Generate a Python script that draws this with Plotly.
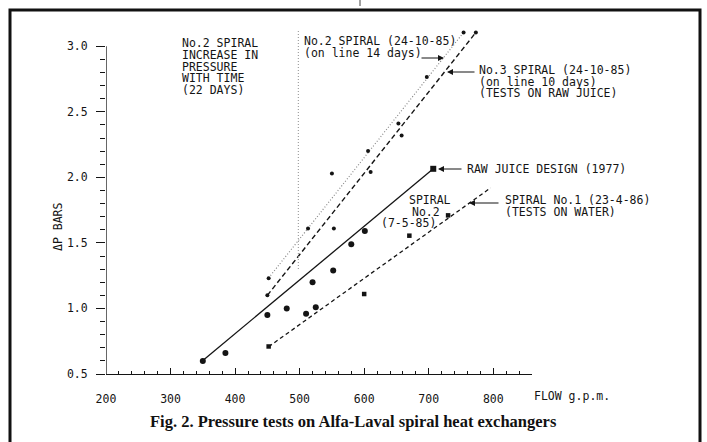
import plotly.graph_objects as go

# ---------------- data ----------------
# Spiral No.2 (7-5-85)  - solid line, large dots
sp2_x = [350, 385, 450, 480, 510, 520, 525, 552, 580, 601]
sp2_y = [0.60, 0.66, 0.95, 1.00, 0.96, 1.20, 1.01, 1.29, 1.49, 1.59]
sp2_fit_x = [351, 707]
sp2_fit_y = [0.607, 2.065]

# Raw juice design (1977)
design_x = [707]
design_y = [2.065]

# No.2 spiral (24-10-85) on line 14 days - dotted line
d14_x = [452, 513, 550, 606, 697, 754]
d14_y = [1.23, 1.61, 2.03, 2.20, 2.765, 3.105]
d14_fit_x = [452, 754]
d14_fit_y = [1.233, 3.105]

# No.3 spiral (24-10-85) on line 10 days, tests on raw juice - dashed line
d10_x = [450, 553, 610, 653, 658, 773]
d10_y = [1.10, 1.61, 2.04, 2.41, 2.32, 3.105]
d10_fit_x = [450, 773]
d10_fit_y = [1.10, 3.105]

# Spiral No.1 (23-4-86), tests on water - dashed line, squares
w_x = [452, 600, 670, 730]
w_y = [0.71, 1.11, 1.555, 1.71]
w_fit_x = [452, 796]
w_fit_y = [0.708, 1.92]

# vertical reference line (increase in pressure with time)
ref_x = [498, 498]
ref_y = [1.30, 3.13]

x_ticks = [200, 300, 400, 500, 600, 700, 800]
x_tick_labels = ["200", "300", "400", "500", "600", "700", "800"]
y_ticks = [0.5, 1.0, 1.5, 2.0, 2.5, 3.0]
y_tick_labels = ["0.5", "1.0", "1.5", "2.0", "2.5", "3.0"]

# ---------------- layout geometry ----------------
W, H = 707, 442
ML, MR, MT, MB = 106, 175, 20, 68
PW, PH = W - ML - MR, H - MT - MB
XR = [200, 860]
YR = [0.5, 3.2]


def dx(px):
    return XR[0] + (px - ML) * (XR[1] - XR[0]) / PW


def dy(py):
    return YR[1] - (py - MT) * (YR[1] - YR[0]) / PH


def paper_x(px):
    return (px - ML) / PW


def paper_y(py):
    return 1 - (py - MT) / PH


FONT = "DejaVu Sans Mono"
FS = 11.5
INK = "#141414"

fig = go.Figure()

# fitted lines
fig.add_trace(go.Scatter(x=sp2_fit_x, y=sp2_fit_y, mode="lines",
                         line=dict(color=INK, width=1.3), hoverinfo="skip"))
fig.add_trace(go.Scatter(x=d14_fit_x, y=d14_fit_y, mode="lines",
                         line=dict(color="#8a8a8a", width=1.2, dash="1px,2px"), hoverinfo="skip"))
fig.add_trace(go.Scatter(x=d10_fit_x, y=d10_fit_y, mode="lines",
                         line=dict(color=INK, width=1.4, dash="5px,3px"), hoverinfo="skip"))
fig.add_trace(go.Scatter(x=w_fit_x, y=w_fit_y, mode="lines",
                         line=dict(color=INK, width=1.3, dash="4px,3px"), hoverinfo="skip"))
fig.add_trace(go.Scatter(x=ref_x, y=ref_y, mode="lines",
                         line=dict(color="#9a9a9a", width=1.1, dash="1px,2px"), hoverinfo="skip"))

# points
fig.add_trace(go.Scatter(x=sp2_x, y=sp2_y, mode="markers",
                         marker=dict(symbol="circle", size=6, color=INK), cliponaxis=False))
fig.add_trace(go.Scatter(x=d14_x, y=d14_y, mode="markers",
                         marker=dict(symbol="circle", size=4, color=INK), cliponaxis=False))
fig.add_trace(go.Scatter(x=d10_x, y=d10_y, mode="markers",
                         marker=dict(symbol="circle", size=4, color=INK), cliponaxis=False))
fig.add_trace(go.Scatter(x=w_x, y=w_y, mode="markers",
                         marker=dict(symbol="square", size=4.5, color=INK), cliponaxis=False))
fig.add_trace(go.Scatter(x=design_x, y=design_y, mode="markers",
                         marker=dict(symbol="square", size=6, color=INK), cliponaxis=False))

ann = []


def text(s, px, py, anchor="left", size=FS, family=FONT, color=INK, angle=0):
    ann.append(dict(text=s, x=paper_x(px), y=paper_y(py), xref="paper", yref="paper",
                    xanchor=anchor, yanchor="middle", showarrow=False,
                    textangle=angle, font=dict(family=family, size=size, color=color)))


def arrow(head_px, head_py, tail_px):
    ann.append(dict(text="", x=dx(head_px), y=dy(head_py), xref="x", yref="y",
                    ax=tail_px - head_px, ay=0, showarrow=True,
                    arrowhead=2, arrowsize=1.0, arrowwidth=1.2, arrowcolor=INK))


# No.2 spiral increase in pressure with time
for i, s in enumerate(["No.2 SPIRAL", "INCREASE IN", "PRESSURE", "WITH TIME", "(22 DAYS)"]):
    text(s, 180, 43.3 + i * 11.7)

# No.2 spiral on line 14 days
text("No.2 SPIRAL (24-10-85)", 302, 41)
text("(on line 14 days)", 302, 53)
arrow(444, 58, 420)

# No.3 spiral
text("No.3 SPIRAL (24-10-85)", 477, 70)
text("(on line 10 days)", 477, 81.5)
text("(TESTS ON RAW JUICE)", 477, 93)
arrow(447, 72, 476)

# raw juice design
text("RAW JUICE DESIGN (1977)", 465, 169)
arrow(438, 169, 463)

# spiral No.2 (7-5-85)
text("SPIRAL", 430, 200, anchor="center")
text("No.2", 426, 211.5, anchor="center")
text("(7-5-85)", 408, 223, anchor="center")

# spiral No.1 water
text("SPIRAL No.1 (23-4-86)", 503, 200)
text("(TESTS ON WATER)", 503, 212)
arrow(469, 203, 500)

# axis titles
text("FLOW g.p.m.", 532, 396)
text("\u0394P BARS", 58, 227, anchor="center", angle=-90)

# caption
ann.append(dict(text="<b>Fig. 2. Pressure tests on Alfa-Laval spiral heat exchangers</b>",
                x=paper_x(353), y=paper_y(421), xref="paper", yref="paper",
                xanchor="center", yanchor="middle", showarrow=False,
                font=dict(family="Liberation Serif", size=16.5, color="#111")))

shapes = [
    # outer frame
    dict(type="rect", xref="paper", yref="paper",
         x0=paper_x(10), x1=paper_x(700), y0=paper_y(470), y1=paper_y(10),
         line=dict(color="#111", width=3), layer="below"),
    # y axis line (from 0.5 to 3.0)
    dict(type="line", xref="x", yref="y", x0=XR[0], x1=XR[0], y0=y_ticks[0], y1=y_ticks[-1],
         line=dict(color=INK, width=1.3)),
    # page artifact at top
    dict(type="line", xref="paper", yref="paper", x0=paper_x(360), x1=paper_x(360),
         y0=paper_y(6), y1=paper_y(-2), line=dict(color="#444", width=1)),
]

x_minor = [v for v in range(220, 861, 20) if v % 100 != 0]
y_minor = [round(0.5 + 0.1 * i, 1) for i in range(1, 25) if i % 5 != 0]

fig.update_layout(
    width=W, height=H,
    margin=dict(l=ML, r=MR, t=MT, b=MB, pad=0),
    paper_bgcolor="white", plot_bgcolor="white",
    showlegend=False,
    annotations=ann, shapes=shapes,
    font=dict(family=FONT, size=FS, color=INK),
    xaxis=dict(range=XR, showgrid=False, zeroline=False,
               showline=True, linecolor=INK, linewidth=1.3,
               tickmode="array", tickvals=x_ticks, ticktext=x_tick_labels,
               ticks="inside", ticklen=6, tickwidth=1.2, tickcolor=INK,
               ticklabelstandoff=14,
               tickfont=dict(family=FONT, size=FS, color=INK),
               minor=dict(tickmode="array", tickvals=x_minor, ticks="inside",
                          ticklen=3, tickwidth=1, tickcolor=INK, showgrid=False)),
    yaxis=dict(range=YR, showgrid=False, zeroline=False, showline=False,
               tickmode="array", tickvals=y_ticks, ticktext=y_tick_labels,
               ticks="outside", ticklen=9, tickwidth=1.2, tickcolor=INK,
               ticklabelstandoff=6,
               tickfont=dict(family=FONT, size=FS, color=INK),
               minor=dict(tickmode="array", tickvals=y_minor, ticks="outside",
                          ticklen=5, tickwidth=1, tickcolor=INK, showgrid=False)),
)

fig.write_html("out.html",
               config={"displayModeBar": False},
               post_script="document.body.style.margin='0';document.body.style.overflow='hidden';")
